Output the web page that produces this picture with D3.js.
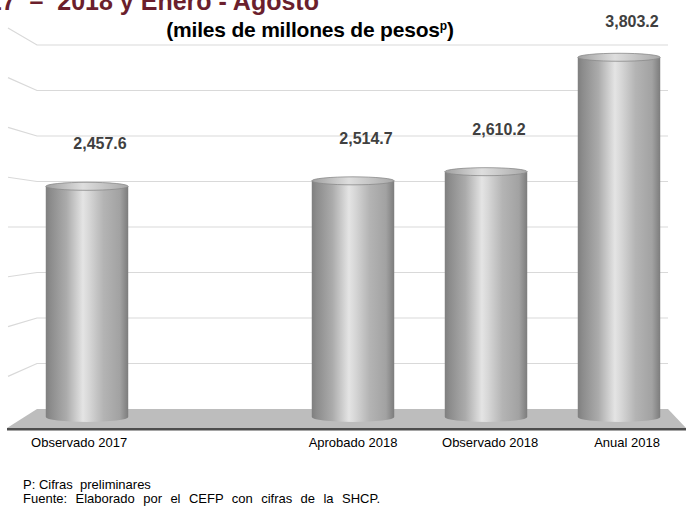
<!DOCTYPE html>
<html>
<head>
<meta charset="utf-8">
<script src="https://cdn.jsdelivr.net/npm/d3@7"></script>
<style>
  html, body { margin: 0; padding: 0; background: #fff; }
  svg { display: block; font-family: "Liberation Sans", Arial, sans-serif; }
</style>
</head>
<body>
<svg id="chart" width="688" height="510"></svg>
<script>
// --- DATA ---
const categories = ["Observado 2017", "", "Aprobado 2018", "Observado 2018", "Anual 2018"];
const values = [2457.6, null, 2514.7, 2610.2, 3803.2];
const gridTicks = [500, 1000, 1500, 2000, 2500, 3000, 3500, 4000];
const titleText = "2017  –  2018 y Enero - Agosto";
const subtitleText = "(miles de millones de pesos";
const notes = ["P: Cifras  preliminares", "Fuente: Elaborado por el CEFP con cifras de la SHCP."];

// --- LAYOUT ---
const WALL_LEFT = 37, WALL_RIGHT = 668;
const SIDE_X = 8;          // far edge of the side wall
const VANISH_Y = 227;      // perspective centre of the side wall
const PERSP = 1.094;
const FLOOR_TOP = 409, FLOOR_BOTTOM = 428;

const svg = d3.select("#chart");

// scales
const x = d3.scaleBand().domain(categories.map((c, i) => i)).range([20.5, 685.5]).paddingInner(0.38).paddingOuter(0.19);
const yWall = d3.scaleLinear().domain([0, 4000]).range([FLOOR_TOP, 45]);
const yBar = d3.scaleLinear().domain([0, 4000]).range([418, 34.4]);

// --- GRADIENTS ---
const defs = svg.append("defs");
const body = defs.append("linearGradient").attr("id", "cyl").attr("x1", "0").attr("x2", "1").attr("y1", "0").attr("y2", "0");
[[0, "#7f7f7f"], [0.06, "#8c8c8c"], [0.25, "#ababab"], [0.45, "#e4e4e4"], [0.52, "#d8d8d8"], [0.7, "#b4b4b4"], [0.9, "#a2a2a2"], [1, "#7c7c7c"]]
  .forEach(s => body.append("stop").attr("offset", s[0]).attr("stop-color", s[1]));
const cap = defs.append("linearGradient").attr("id", "cap").attr("x1", "0").attr("x2", "1").attr("y1", "0").attr("y2", "0");
[[0, "#a0a0a0"], [0.45, "#dedede"], [1, "#a8a8a8"]]
  .forEach(s => cap.append("stop").attr("offset", s[0]).attr("stop-color", s[1]));

// --- WALL GRID ---
const grid = svg.append("g").attr("stroke", "#d9d9d9").attr("stroke-width", 1.2).attr("fill", "none");
gridTicks.forEach(t => {
  const yy = yWall(t);
  grid.append("path")
    .attr("d", `M${SIDE_X},${VANISH_Y + (yy - VANISH_Y) * PERSP}L${WALL_LEFT},${yy}L${WALL_RIGHT},${yy}`);
});

// --- FLOOR ---
svg.append("polygon")
  .attr("points", `${WALL_LEFT},${FLOOR_TOP} ${WALL_RIGHT},${FLOOR_TOP} ${686},${FLOOR_BOTTOM} ${SIDE_X - 1},${FLOOR_BOTTOM}`)
  .attr("fill", "#bdbdbd");
svg.append("rect").attr("x", SIDE_X - 1).attr("y", FLOOR_BOTTOM).attr("width", 686 - SIDE_X + 1).attr("height", 2.5).attr("fill", "#4d4d4d");

// --- BARS ---
const RX = x.bandwidth() / 2;
const bars = svg.append("g").selectAll("g").data(values.map((v, i) => ({ v, i })).filter(d => d.v != null)).join("g");
const bottomY = 417;
bars.append("path")
  .attr("d", d => {
    const x0 = x(d.i), x1 = x(d.i) + x.bandwidth(), top = yBar(d.v) + 4;
    return `M${x0},${top}L${x0},${bottomY}A${RX},5 0 0 0 ${x1},${bottomY}L${x1},${top}Z`;
  })
  .attr("fill", "url(#cyl)");
bars.append("ellipse")
  .attr("cx", d => x(d.i) + RX).attr("cy", d => yBar(d.v) + 4)
  .attr("rx", RX).attr("ry", 4)
  .attr("fill", "url(#cap)").attr("stroke", "#8a8a8a").attr("stroke-width", 0.8);

// value labels
svg.append("g").selectAll("text").data(values.map((v, i) => ({ v, i })).filter(d => d.v != null)).join("text")
  .attr("x", d => x(d.i) + RX + 13)
  .attr("y", d => Math.max(yBar(d.v) - 33, 27))
  .attr("text-anchor", "middle")
  .attr("font-size", 16).attr("font-weight", "bold").attr("fill", "#404040")
  .text(d => d3.format(",.1f")(d.v));

// category labels (slight perspective spread)
svg.append("g").selectAll("text").data(categories).join("text")
  .attr("x", (d, i) => 350 + (x(i) + RX - 350) * 1.03)
  .attr("y", 447)
  .attr("text-anchor", "middle")
  .attr("font-size", 13).attr("fill", "#000")
  .text(d => d);

// --- TITLES ---
svg.append("text").attr("x", -40).attr("y", 10)
  .attr("font-size", 25).attr("font-weight", "bold").attr("fill", "#6b1f2d")
  .style("white-space", "pre")
  .text(titleText);
const sub = svg.append("text").attr("x", 310).attr("y", 37).attr("text-anchor", "middle")
  .attr("font-size", 21).attr("font-weight", "bold").attr("fill", "#000")
  .attr("letter-spacing", -0.2);
sub.append("tspan").text(subtitleText);
sub.append("tspan").attr("font-size", 12).attr("dy", -7).text("p");
sub.append("tspan").attr("dy", 7).text(")");

// --- NOTES ---
svg.append("g").selectAll("text").data(notes).join("text")
  .attr("x", 23).attr("y", (d, i) => 489 + i * 14)
  .attr("font-size", 13).attr("fill", "#000")
  .attr("word-spacing", (d, i) => i ? 4.8 : 0)
  .style("white-space", "pre")
  .text(d => d);
</script>
</body>
</html>
